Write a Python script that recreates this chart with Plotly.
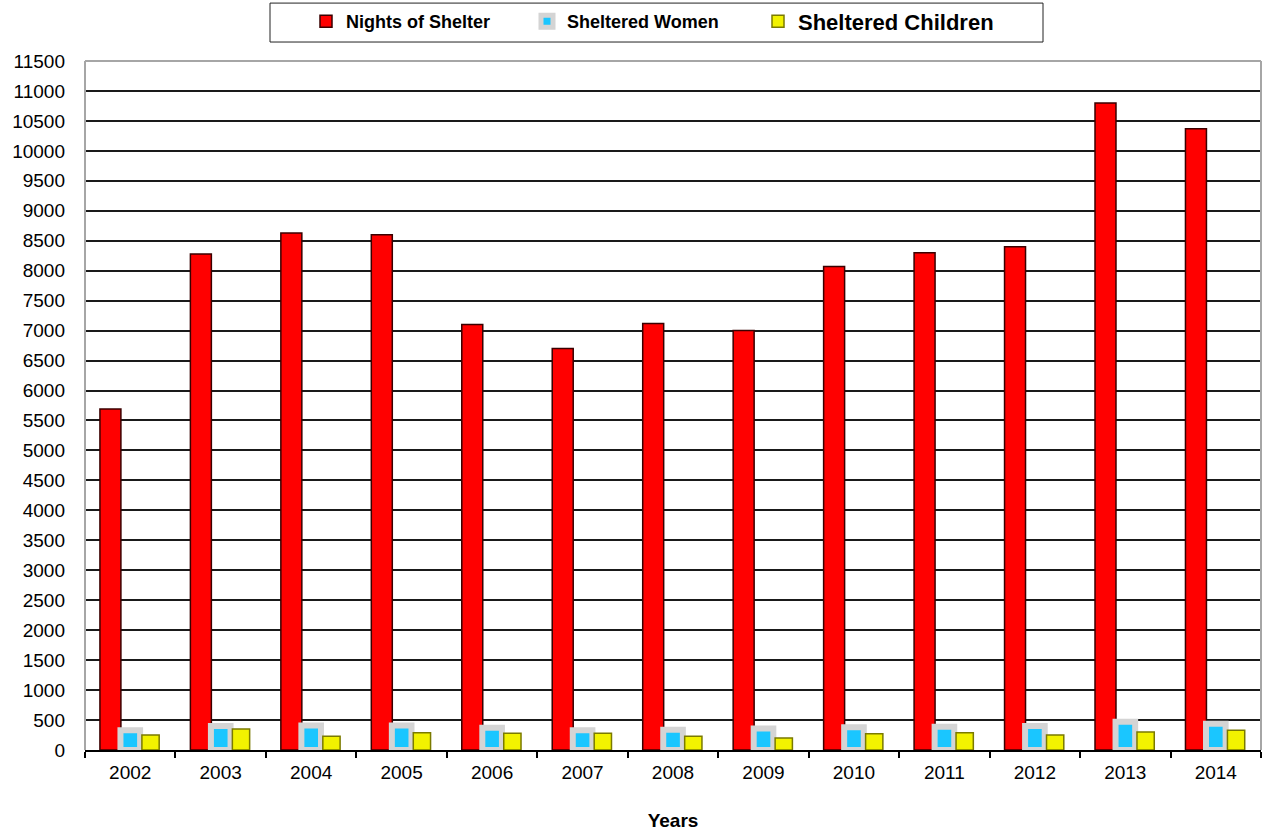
import plotly.graph_objects as go

# Shelter statistics per year
years = ["2002", "2003", "2004", "2005", "2006", "2007", "2008",
         "2009", "2010", "2011", "2012", "2013", "2014"]
nights_of_shelter = [5690, 8280, 8630, 8600, 7100, 6700, 7120,
                     7000, 8070, 8300, 8400, 10800, 10370]
sheltered_women = [330, 400, 410, 410, 370, 330, 340,
                   360, 380, 390, 400, 470, 440]
sheltered_children = [250, 350, 230, 290, 280, 280, 230,
                      200, 270, 290, 250, 300, 330]
y_ticks = list(range(0, 11501, 500))
y_tick_labels = [str(v) for v in y_ticks]

FONT = "Liberation Sans, Arial, sans-serif"
PLOT_L, PLOT_T, PLOT_W, PLOT_H = 85, 60, 1176, 690


def px_x(px):
    return (px - PLOT_L) / PLOT_W


def px_y(px):
    return 1 + (PLOT_T - px) / PLOT_H


fig = go.Figure()

fig.add_trace(go.Bar(
    x=years, y=nights_of_shelter,
    name="<b>Nights of Shelter</b>",
    width=0.232, offset=-0.335,
    marker=dict(color="#ff0000", line=dict(color="#3a0000", width=1.5)),
    legend="legend",
))
fig.add_trace(go.Bar(
    x=years, y=sheltered_women,
    name="<b>Sheltered Women</b>",
    width=0.217, offset=-0.108,
    marker=dict(color="#1ac6ff", line=dict(color="#d4d4d4", width=6)),
    legend="legend2",
))
fig.add_trace(go.Bar(
    x=years, y=sheltered_children,
    name="<b>Sheltered Children</b>",
    width=0.191, offset=0.129,
    marker=dict(color="#f2f200", line=dict(color="#7a7a00", width=1.5)),
    legend="legend3",
))

# plot frame: grey on top/left/right, legend box above the plot
frame = dict(color="#a6a6a6", width=2)
shapes = [
    dict(type="line", xref="paper", yref="paper", x0=0, x1=1, y0=1, y1=1, line=frame, layer="above"),
    dict(type="line", xref="paper", yref="paper", x0=0, x1=0, y0=0, y1=1, line=frame, layer="above"),
    dict(type="line", xref="paper", yref="paper", x0=1, x1=1, y0=0, y1=1, line=frame, layer="above"),
    dict(type="rect", xref="paper", yref="paper",
         x0=px_x(270), x1=px_x(1043), y0=px_y(41), y1=px_y(2),
         line=dict(color="#222222", width=1), fillcolor="rgba(0,0,0,0)"),
]


def legend_at(left_px, size):
    return dict(
        orientation="h",
        x=px_x(left_px), xanchor="left",
        y=px_y(21.5), yanchor="middle",
        font=dict(family=FONT, size=size, color="#000000"),
        bgcolor="rgba(0,0,0,0)", borderwidth=0,
    )


fig.update_layout(
    width=1263, height=833,
    margin=dict(l=PLOT_L, r=2, t=PLOT_T, b=83),
    paper_bgcolor="white", plot_bgcolor="white",
    barmode="overlay",
    font=dict(family=FONT, size=19, color="#000000"),
    showlegend=True,
    legend=legend_at(306, 18),
    legend2=legend_at(527, 18),
    legend3=legend_at(758, 22),
    shapes=shapes,
    xaxis=dict(
        type="category",
        tickson="boundaries",
        ticks="outside", ticklen=6, tickcolor="#000000", tickwidth=1.5,
        showline=True, linecolor="#000000", linewidth=2,
        showgrid=False,
        tickfont=dict(size=19),
        ticklabelstandoff=4,
        title=dict(text="<b>Years</b>", font=dict(size=19), standoff=32),
    ),
    yaxis=dict(
        range=[0, 11500],
        tickvals=y_ticks,
        ticktext=y_tick_labels,
        ticks="",
        showgrid=True, gridcolor="#1a1a1a", gridwidth=2,
        zeroline=False,
        showline=False,
        tickfont=dict(size=19),
        ticklabelstandoff=19,
    ),
)

fig.write_html("out.html")
